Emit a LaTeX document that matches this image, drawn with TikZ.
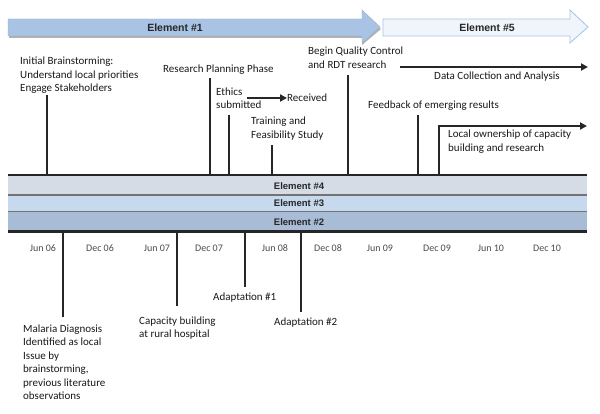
\documentclass[tikz,border=0pt]{standalone}
\usepackage{fontspec}
\setmainfont{Carlito}
\newfontfamily\arialb{Liberation Sans}
\usetikzlibrary{arrows.meta}
\definecolor{eone}{HTML}{A8C3E4}
\definecolor{efive}{HTML}{F0F5FB}
\definecolor{efiveb}{HTML}{A8C3E4}
\definecolor{bandfour}{HTML}{D5DCE5}
\definecolor{bandthree}{HTML}{C6D9EE}
\definecolor{bandtwo}{HTML}{A9BCD6}
\begin{document}
\begin{tikzpicture}[x=1pt,y=-1pt,
  lab/.style={font=\fontsize{11}{13.5}\selectfont, align=left, anchor=north west, inner sep=0pt, text=black!90},
  onelab/.style={font=\fontsize{11}{13.5}\selectfont, anchor=west, inner sep=0pt, text=black!90},
  tick/.style={line width=1.8pt, draw=black!85},
  arr/.style={line width=1.8pt, draw=black!85, -{Triangle[length=7pt,width=7pt]}},
  datel/.style={font=\fontsize{10}{11}\selectfont, text=black!70, inner sep=0pt},
  elab/.style={font=\arialb\bfseries\fontsize{10.5}{11}\selectfont, text=black!85, inner sep=0pt},
  blab/.style={font=\arialb\bfseries\fontsize{9.5}{10}\selectfont, text=black!85, inner sep=0pt}]
\useasboundingbox[fill=white] (0,0) rectangle (600,414);

% top arrows
\fill[black!30] (9,21) -- (362,21) -- (362,13) -- (381,29) -- (362,45) -- (362,38) -- (9,38) -- cycle;
\draw[fill=eone, draw=eone!90!black, line width=0.4pt] (8,19) -- (362,19) -- (362,10) -- (380,27) -- (362,43) -- (362,36) -- (8,36) -- cycle;
\node[elab] (e1) at (175,27.5) {Element \#1};
\draw[fill=efive, draw=efiveb, line width=0.8pt] (383,19) -- (570,19) -- (570,10) -- (588,27) -- (570,43) -- (570,36) -- (383,36) -- cycle;
\node[elab] (e5) at (487,27.5) {Element \#5};

% bands
\fill[bandfour] (8,175) rectangle (587,195);
\fill[bandthree] (8,195) rectangle (587,211.5);
\fill[bandtwo] (8,211.5) rectangle (587,231.5);
\draw[black!55, line width=1.2pt] (8,195) -- (587,195);
\draw[black!55, line width=1.2pt] (8,211.5) -- (587,211.5);
\draw[black!85, line width=2.4pt] (8,175) -- (587,175);
\draw[black!85, line width=2.4pt] (8,231.5) -- (587,231.5);
\node[blab] (b4) at (299,186) {Element \#4};
\node[blab] (b3) at (299,203.5) {Element \#3};
\node[blab] (b2) at (299,222) {Element \#2};

% dates
\node[datel] (d1) at (43,248) {Jun 06};
\node[datel] (d2) at (100,248) {Dec 06};
\node[datel] (d3) at (157,248) {Jun 07};
\node[datel] (d4) at (209,248) {Dec 07};
\node[datel] (d5) at (275,248) {Jun 08};
\node[datel] (d6) at (328,248) {Dec 08};
\node[datel] (d7) at (380,248) {Jun 09};
\node[datel] (d8) at (437,248) {Dec 09};
\node[datel] (d9) at (491,248) {Jun 10};
\node[datel] (d10) at (547,248) {Dec 10};

% upper labels
\node[lab] (init) at (20,57) {Initial Brainstorming:\\Understand local priorities\\Engage Stakeholders};
\node[lab] (rpp) at (163,64.5) {Research Planning Phase};
\node[lab] (eth) at (216,87.5) {Ethics\\submitted};
\node[onelab] (rec) at (287,98) {Received};
\node[lab] (tfs) at (251,117) {Training and\\Feasibility Study};
\node[lab] (bqc) at (308,47) {Begin Quality Control\\and RDT research};
\node[onelab, anchor=center] (dca) at (497,77) {Data Collection and Analysis};
\node[onelab] (feed) at (368,106) {Feedback of emerging results};
\node[lab] (loc) at (448,130) {Local ownership of capacity\\building and research};

% upper ticks
\coordinate (u1t) at (47,95);   \coordinate (u1b) at (47,175);
\coordinate (u2t) at (210,78);  \coordinate (u2b) at (210,175);
\coordinate (u3t) at (229,115); \coordinate (u3b) at (229,175);
\coordinate (u4t) at (272,145); \coordinate (u4b) at (272,175);
\coordinate (u5t) at (348,75);  \coordinate (u5b) at (348,175);
\coordinate (u6t) at (418,115); \coordinate (u6b) at (418,175);
\coordinate (u7b) at (439,175); \coordinate (u7c) at (439,126); \coordinate (u7e) at (587,126);
\draw[tick] (u1t) -- (u1b);
\draw[tick] (u2t) -- (u2b);
\draw[tick] (u3t) -- (u3b);
\draw[tick] (u4t) -- (u4b);
\draw[tick] (u5t) -- (u5b);
\draw[tick] (u6t) -- (u6b);
\draw[arr] (u7b) -- (u7c) -- (u7e);
\coordinate (ethe) at (247,98);
\draw[arr] (ethe) -- (rec.west);
\coordinate (dcas) at (400,67); \coordinate (dcae) at (588,67);
\draw[arr] (dcas) -- (dcae);

% lower labels
\node[lab] (mal) at (23,324.5) {Malaria Diagnosis\\Identified as local\\Issue by\\brainstorming,\\previous literature\\observations};
\node[lab] (cap) at (139,316.5) {Capacity building\\at rural hospital};
\node[onelab] (ad1) at (213,298) {Adaptation \#1};
\node[onelab] (ad2) at (274,323) {Adaptation \#2};

% lower ticks
\coordinate (l1t) at (63,232);  \coordinate (l1b) at (63,317);
\coordinate (l2t) at (177,232); \coordinate (l2b) at (177,306);
\coordinate (l3t) at (245,232); \coordinate (l3b) at (245,287);
\coordinate (l4t) at (301,232); \coordinate (l4b) at (301,312);
\draw[tick] (l1t) -- (l1b);
\draw[tick] (l2t) -- (l2b);
\draw[tick] (l3t) -- (l3b);
\draw[tick] (l4t) -- (l4b);
\end{tikzpicture}
\end{document}
